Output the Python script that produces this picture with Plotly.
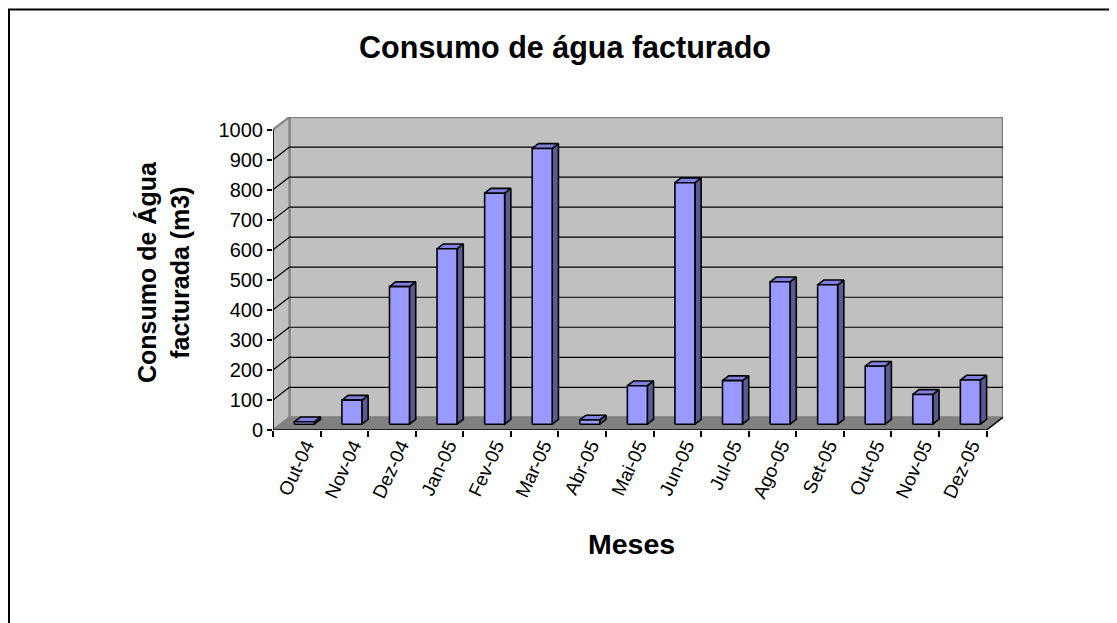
import plotly.graph_objects as go

# ---------------- data ----------------
months = ["Out-04", "Nov-04", "Dez-04", "Jan-05", "Fev-05", "Mar-05", "Abr-05",
          "Mai-05", "Jun-05", "Jul-05", "Ago-05", "Set-05", "Out-05", "Nov-05", "Dez-05"]
consumo = [8, 80, 458, 584, 769, 918, 14, 128, 804, 145, 474, 464, 193, 99, 147]
y_ticks = [0, 100, 200, 300, 400, 500, 600, 700, 800, 900, 1000]

title_text = "Consumo de água facturado"
y_title = "Consumo de Água<br>facturada (m3)"
x_title = "Meses"

# ---------------- 3D-look geometry (in axis units) ----------------
N = len(months)
YMAX = y_ticks[-1]
WDX = 0.345      # wall depth in category units
WDY = 42.0       # wall depth in value units
F0 = 0.46        # depth fraction of bar front face
BD = 0.38        # bar depth fraction
BW = 0.42        # bar width (category units)

FONT = "Liberation Sans, Arial, sans-serif"
WALL = "#C0C0C0"
WALL_EDGE = "#808080"
FLOOR = "#808080"
FRONT = "#9999FF"
TOP = "#8080E0"
SIDE = "#5A5A94"

# page offset (browser body margin)
OFF = 8
PL, PT, PW, PH = 273 - OFF, 117 - OFF, 730, 313
W, H = 1117, 623

fig = go.Figure()


def poly_trace(polys, fill, line_color, line_width):
    xs, ys = [], []
    for p in polys:
        for (a, b) in p:
            xs.append(a)
            ys.append(b)
        xs.append(p[0][0])
        ys.append(p[0][1])
        xs.append(None)
        ys.append(None)
    return go.Scatter(x=xs, y=ys, mode="lines", fill="toself", fillcolor=fill,
                      line=dict(color=line_color, width=line_width),
                      hoverinfo="skip", showlegend=False)


def line_trace(segs, color, width):
    xs, ys = [], []
    for (a, b) in segs:
        xs += [a[0], b[0], None]
        ys += [a[1], b[1], None]
    return go.Scatter(x=xs, y=ys, mode="lines", line=dict(color=color, width=width),
                      hoverinfo="skip", showlegend=False)


# back wall
fig.add_trace(poly_trace([[(WDX, WDY), (N + WDX, WDY), (N + WDX, YMAX + WDY), (WDX, YMAX + WDY)]],
                         WALL, WALL_EDGE, 2.5))
# left wall
fig.add_trace(poly_trace([[(0, 0), (WDX, WDY), (WDX, YMAX + WDY), (0, YMAX)]],
                         WALL, WALL_EDGE, 2))
# floor
fig.add_trace(poly_trace([[(0, 0), (N, 0), (N + WDX, WDY), (WDX, WDY)]],
                         FLOOR, FLOOR, 1))
# gridlines
grid = []
for v in y_ticks[1:-1]:
    grid.append(((WDX, v + WDY), (N + WDX, v + WDY)))
    grid.append(((0, v), (WDX, v + WDY)))
fig.add_trace(line_trace(grid, "black", 1.2))
# front axis lines and floor right edge
fig.add_trace(line_trace([((0, 0), (0, YMAX)), ((0, 0), (N, 0)), ((N, 0), (N + WDX, WDY))],
                         "black", 1.5))

# bars
fronts, tops, sides = [], [], []
ddx, ddy = BD * WDX, BD * WDY
for i, v in enumerate(consumo):
    x0 = i + 0.5 - BW / 2 + F0 * WDX
    x1 = x0 + BW
    yb = F0 * WDY
    yt = yb + v
    fronts.append([(x0, yb), (x1, yb), (x1, yt), (x0, yt)])
    tops.append([(x0, yt), (x1, yt), (x1 + ddx, yt + ddy), (x0 + ddx, yt + ddy)])
    sides.append([(x1, yb), (x1 + ddx, yb + ddy), (x1 + ddx, yt + ddy), (x1, yt)])
fig.add_trace(poly_trace(sides, SIDE, "black", 1.6))
fig.add_trace(poly_trace(tops, TOP, "black", 1.6))
fig.add_trace(poly_trace(fronts, FRONT, "black", 1.6))

# dummy trace for tick axis
fig.add_trace(go.Scatter(x=[0], y=[0], xaxis="x2", mode="markers",
                         marker=dict(opacity=0), hoverinfo="skip", showlegend=False))

XR = [0, N + WDX]
YR = [0, YMAX + WDY]


def px_x(p):
    return (p - OFF - PL) / PW


def px_y(p):
    return (PT + PH - (p - OFF)) / PH


fig.update_layout(
    width=W, height=H,
    margin=dict(l=PL, r=W - PL - PW, t=PT, b=H - PT - PH),
    paper_bgcolor="white", plot_bgcolor="rgba(0,0,0,0)",
    font=dict(family=FONT, color="black"),
    title=dict(text="<b>" + title_text + "</b>", font=dict(size=30.5, family=FONT, color="black"),
               x=(565 - OFF) / W, xref="container", xanchor="center",
               y=1 - (47 - OFF) / H, yref="container", yanchor="middle"),
    xaxis=dict(range=XR, tickvals=[i + 0.5 for i in range(N)], ticktext=months,
               tickangle=-65, ticks="", showgrid=False, zeroline=False, showline=False,
               tickfont=dict(size=19, family=FONT, color="black"), ticklabelshift=9),
    xaxis2=dict(range=XR, overlaying="x", anchor="y", side="bottom",
                tickvals=list(range(N + 1)), ticks="outside", ticklen=6, tickwidth=1.5,
                tickcolor="black", showticklabels=False, showgrid=False, zeroline=False,
                showline=False),
    yaxis=dict(range=YR, tickvals=y_ticks, ticks="outside", ticklen=5, tickwidth=1.5,
               tickcolor="black", showgrid=False, zeroline=False, showline=False,
               tickfont=dict(size=20, family=FONT, color="black")),
    showlegend=False,
)

fig.add_annotation(text="<b>" + y_title + "</b>", xref="paper", yref="paper",
                   x=px_x(163), y=px_y(272), textangle=-90,
                   showarrow=False, font=dict(size=25, family=FONT, color="black"),
                   xanchor="center", yanchor="middle")
fig.add_annotation(text="<b>" + x_title + "</b>", xref="paper", yref="paper",
                   x=px_x(631), y=px_y(544),
                   showarrow=False, font=dict(size=28.5, family=FONT, color="black"),
                   xanchor="center", yanchor="middle")

# outer chart border
fig.add_shape(type="rect", xref="paper", yref="paper",
              x0=px_x(9), x1=px_x(1150),
              y0=px_y(660), y1=px_y(9.5),
              line=dict(color="black", width=2), fillcolor="rgba(0,0,0,0)", layer="below")

fig.write_html("out.html")
